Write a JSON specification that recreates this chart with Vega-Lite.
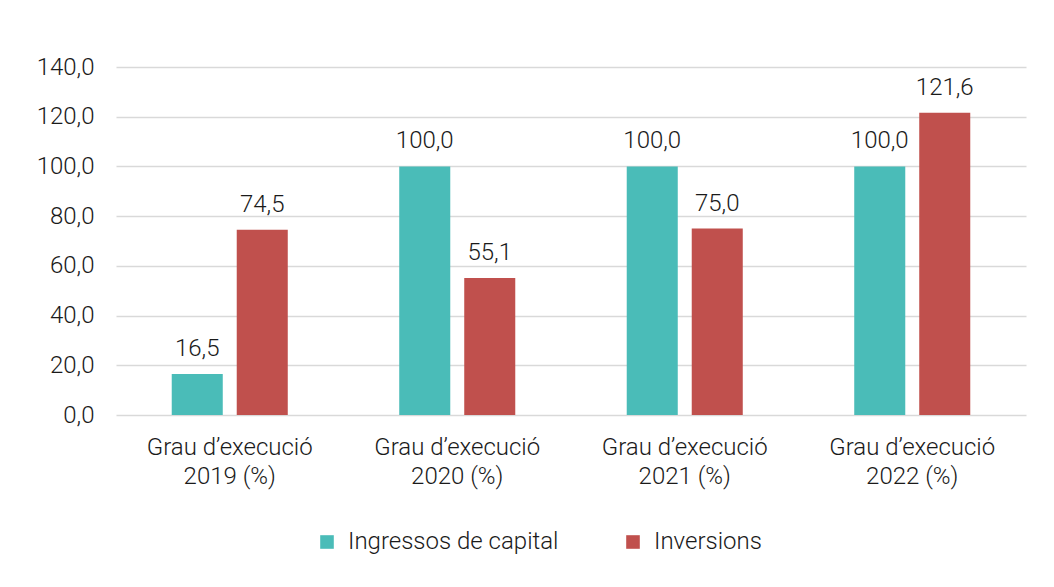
{
  "$schema": "https://vega.github.io/schema/vega-lite/v6.json",
  "width": 910,
  "height": 348,
  "autosize": {"type": "none"},
  "padding": {"left": 116, "top": 67, "right": 28, "bottom": 172},
  "background": "white",
  "config": {
    "locale": {"number": {"decimal": ",", "thousands": ".", "grouping": [3], "currency": ["", " €"]}},
    "view": {"stroke": null},
    "font": "Roboto",
    "axis": {"labelFont": "Roboto", "labelFontWeight": 300, "labelColor": "#1a1a1a", "labelFontSize": 24},
    "legend": {"labelFont": "Roboto", "labelFontWeight": 300}
  },
  "data": {
    "values": [
      {"cat": "Grau d’execució|2019 (%)", "serie": "Ingressos de capital", "v": 16.5},
      {"cat": "Grau d’execució|2019 (%)", "serie": "Inversions", "v": 74.5},
      {"cat": "Grau d’execució|2020 (%)", "serie": "Ingressos de capital", "v": 100.0},
      {"cat": "Grau d’execució|2020 (%)", "serie": "Inversions", "v": 55.1},
      {"cat": "Grau d’execució|2021 (%)", "serie": "Ingressos de capital", "v": 100.0},
      {"cat": "Grau d’execució|2021 (%)", "serie": "Inversions", "v": 75.0},
      {"cat": "Grau d’execució|2022 (%)", "serie": "Ingressos de capital", "v": 100.0},
      {"cat": "Grau d’execució|2022 (%)", "serie": "Inversions", "v": 121.6}
    ]
  },
  "encoding": {
    "x": {
      "field": "cat", "type": "nominal", "sort": null,
      "scale": {"paddingInner": 0.49, "paddingOuter": 0.245},
      "axis": {
        "title": null, "labelAngle": 0, "ticks": false, "domain": false,
        "labelPadding": 20, "labelLineHeight": 29,
        "labelExpr": "split(datum.label, '|')"
      }
    },
    "xOffset": {
      "field": "serie", "type": "nominal",
      "scale": {"paddingInner": 0.215, "paddingOuter": 0}
    },
    "y": {
      "field": "v", "type": "quantitative",
      "scale": {"domain": [0, 140]},
      "axis": {
        "title": null, "values": [0, 20, 40, 60, 80, 100, 120, 140],
        "ticks": false, "domain": false, "labelPadding": 22,
        "gridColor": "#D9D9D9", "gridWidth": 1.3,
        "format": ".1f"
      }
    }
  },
  "layer": [
    {
      "mark": {"type": "bar"},
      "encoding": {
        "color": {
          "field": "serie", "type": "nominal",
          "scale": {"domain": ["Ingressos de capital", "Inversions"], "range": ["#4ABCB8", "#C0504D"]},
          "legend": {
            "title": null, "orient": "none", "direction": "horizontal",
            "legendX": 199, "legendY": 463,
            "symbolType": "square", "symbolSize": 185, "symbolStrokeWidth": 0,
            "labelFontSize": 24, "labelColor": "#1a1a1a", "labelOffset": 9,
            "labelLimit": 400, "columnPadding": 62
          }
        }
      }
    },
    {
      "mark": {"type": "text", "baseline": "alphabetic", "dy": -18, "fontSize": 24, "fontWeight": 300, "color": "#1a1a1a", "font": "Roboto"},
      "encoding": {
        "text": {"field": "v", "type": "quantitative", "format": ".1f"},
        "detail": {"field": "serie"}
      }
    }
  ]
}
